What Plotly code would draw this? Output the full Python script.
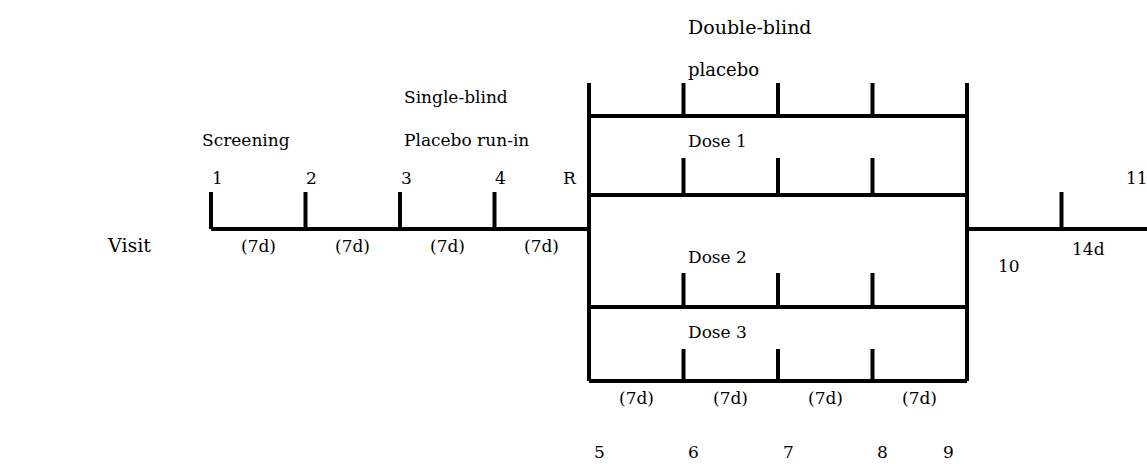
import plotly.graph_objects as go

# ---------------- data (timeline in weeks) ----------------
run_in_visits = ["1", "2", "3", "4"]
run_in_weeks = [0, 1, 2, 3]
rand_label = "R"
rand_week = 4
db_visits = ["5", "6", "7", "8", "9"]
db_weeks = [4, 5, 6, 7, 8]
end_week = 8
followup_tick_week = 9
followup_visits = ["10", "11"]
followup_weeks = [8, 10]
followup_label = "14d"
run_in_durations = ["(7d)", "(7d)", "(7d)", "(7d)"]
db_durations = ["(7d)", "(7d)", "(7d)", "(7d)"]
arms = ["placebo", "Dose 1", "Dose 2", "Dose 3"]
phase_labels = ["Screening", "Single-blind", "Placebo run-in", "Double-blind"]
row_label = "Visit"

# ---------------- layout constants (pixel-like vertical units) ----------------
MAIN_Y = 229
TICK_H = 37
ARM_BASE = [116, 195, 307, 381]
ARM_TOP = [83, 158, 273, 349]
X_MIN, X_MAX = -211 / 94.5, (1147 - 211) / 94.5
FONT = "DejaVu Serif"
FS = 17

xs, ys = [], []


def seg(x0, y0, x1, y1):
    xs.extend([x0, x1, None])
    ys.extend([y0, y1, None])


# main baseline before randomisation and ticks
seg(run_in_weeks[0], MAIN_Y, rand_week, MAIN_Y)
for w in run_in_weeks:
    seg(w, MAIN_Y, w, MAIN_Y - TICK_H)
# follow-up baseline
seg(end_week, MAIN_Y, X_MAX + 1, MAIN_Y)
seg(followup_tick_week, MAIN_Y, followup_tick_week, MAIN_Y - TICK_H)
# double-blind box verticals
seg(db_weeks[0], ARM_TOP[0], db_weeks[0], ARM_BASE[-1])
seg(db_weeks[-1], ARM_TOP[0], db_weeks[-1], ARM_BASE[-1])
# arm lines and inner ticks
for base, top in zip(ARM_BASE, ARM_TOP):
    seg(db_weeks[0], base, db_weeks[-1], base)
    for w in db_weeks[1:-1]:
        seg(w, base, w, top)

fig = go.Figure()
fig.add_trace(go.Scatter(x=xs, y=ys, mode="lines",
                         line=dict(color="black", width=4),
                         hoverinfo="skip", showlegend=False))

ann = []


def text(t, x, y, xanchor="left", xshift=0, size=FS):
    ann.append(dict(text=t, x=x, y=y, xref="x", yref="y", showarrow=False,
                    xanchor=xanchor, yanchor="middle", xshift=xshift,
                    font=dict(family=FONT, size=size, color="black")))


# row label
text(row_label, -1.12, 245, xanchor="left", size=19)
# phase labels
text(phase_labels[0], -0.12, 140)
text(phase_labels[1], 2.02, 97)
text(phase_labels[2], 2.02, 140)
text(phase_labels[3], 5.0, 27, xshift=2, size=19)
# arm labels
arm_y = [69, 141, 257, 332]
for i, (a, y) in enumerate(zip(arms, arm_y)):
    text(a, 5.0, y, xshift=2, size=18 if i == 0 else FS)
# run-in visit numbers
for v, w in zip(run_in_visits, run_in_weeks):
    text(v, w, 178, xanchor="center", xshift=6)
text(rand_label, rand_week, 178, xanchor="center", xshift=-19)
# run-in durations
for d, w in zip(run_in_durations, run_in_weeks):
    text(d, w + 0.5, 246, xanchor="center")
# double-blind durations
for d, w in zip(db_durations, db_weeks[:-1]):
    text(d, w + 0.5, 398, xanchor="center")
# double-blind visit numbers
for v, w in zip(db_visits[:-1], db_weeks[:-1]):
    text(v, w, 452, xanchor="center", xshift=10)
text(db_visits[-1], db_weeks[-1], 452, xanchor="center", xshift=-19)
# follow-up
text(followup_visits[0], followup_weeks[0], 266, xanchor="center", xshift=42)
text(followup_visits[1], followup_tick_week, 178, xanchor="left", xshift=62)
text(followup_label, followup_tick_week, 249, xanchor="center", xshift=27)

fig.update_layout(
    width=1147, height=464,
    margin=dict(l=0, r=0, t=0, b=0),
    paper_bgcolor="white", plot_bgcolor="white",
    annotations=ann,
    xaxis=dict(range=[X_MIN, X_MAX], visible=False, fixedrange=True),
    yaxis=dict(range=[464, 0], visible=False, fixedrange=True),
)
fig.write_html("out.html", config={"displayModeBar": False},
               post_script="document.body.style.margin='0px';document.body.style.overflow='hidden';")
